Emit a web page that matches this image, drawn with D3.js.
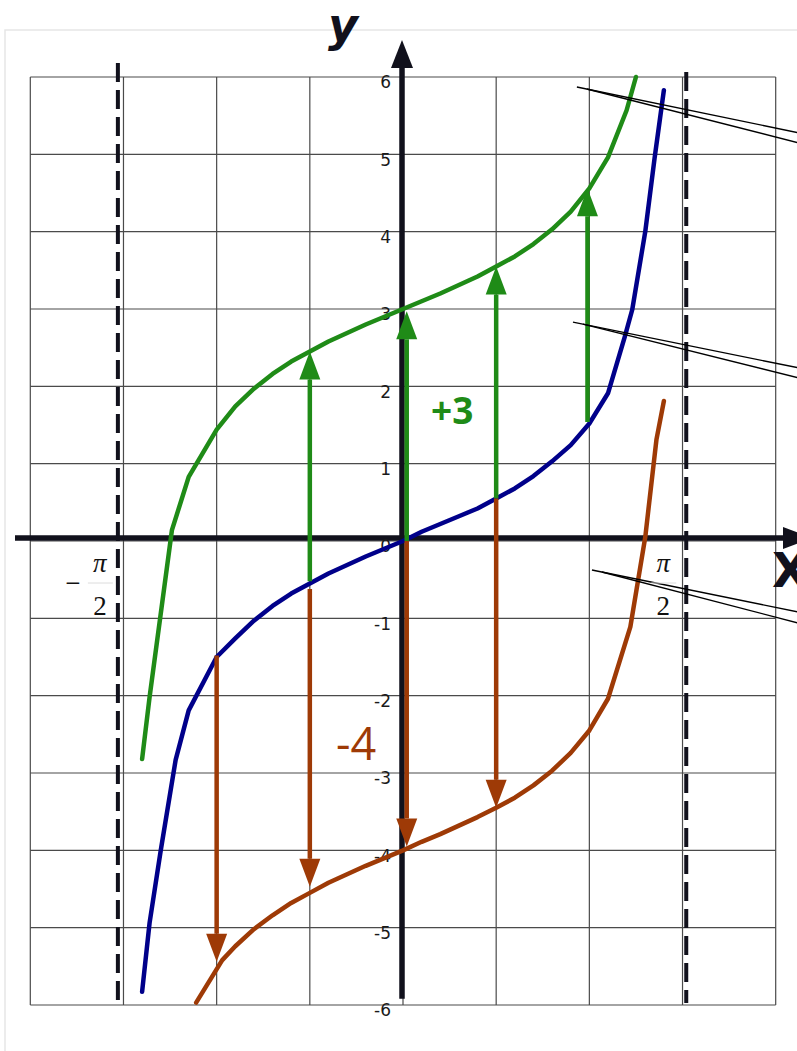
<!DOCTYPE html>
<html lang="en">
<head>
<meta charset="UTF-8" />
<script src="https://d3js.org/d3.v7.min.js"></script>
<style>
  body { margin: 0; background: #fff; }
  svg { display: block; }
</style>
</head>
<body>
<svg id="chart" width="797" height="1051"></svg>
<script>
    // values (x in radians)
    const xGrid = [-2, -1.5, -1, -0.5, 0, 0.5, 1, 1.5, 2];
    const yTicks = [-6, -5, -4, -3, -2, -1, 0, 1, 2, 3, 4, 5, 6];
    const asymptotes = [-1.53, 1.52];

    const blueX = [-1.4, -1.36, -1.3, -1.22, -1.15, -1.0, -0.9, -0.8, -0.7, -0.6, -0.5, -0.4, -0.3, -0.2, -0.1, 0,
                   0.1, 0.2, 0.3, 0.4, 0.5, 0.6, 0.7, 0.8, 0.9, 1.0, 1.1, 1.19, 1.23, 1.3, 1.35, 1.4];
    const blueY = [-5.83, -4.94, -4.0, -2.83, -2.19, -1.5, -1.26, -1.03, -0.84, -0.68, -0.55, -0.42, -0.31, -0.2, -0.1, 0,
                   0.12, 0.22, 0.32, 0.42, 0.55, 0.68, 0.84, 1.03, 1.24, 1.52, 1.91, 2.64, 2.99, 4.0, 4.95, 5.83];

    const greenX = [-1.4, -1.36, -1.24, -1.15, -1.0, -0.9, -0.8, -0.7, -0.6, -0.5, -0.4, -0.3, -0.2, -0.1, 0,
                    0.1, 0.2, 0.3, 0.4, 0.5, 0.6, 0.7, 0.8, 0.9, 1.0, 1.1, 1.2, 1.25];
    const greenY = [-2.82, -2.02, 0.14, 0.83, 1.44, 1.74, 1.97, 2.16, 2.32, 2.45, 2.58, 2.69, 2.8, 2.9, 3.0,
                    3.1, 3.2, 3.31, 3.42, 3.55, 3.68, 3.84, 4.03, 4.26, 4.56, 4.96, 5.57, 6.0];

    const redX = [-1.11, -0.97, -0.9, -0.8, -0.7, -0.6, -0.5, -0.4, -0.3, -0.2, -0.1, 0,
                  0.1, 0.2, 0.3, 0.4, 0.5, 0.6, 0.7, 0.8, 0.9, 1.0, 1.1, 1.22, 1.3, 1.36, 1.4];
    const redY = [-5.97, -5.42, -5.24, -5.02, -4.84, -4.68, -4.55, -4.42, -4.31, -4.2, -4.1, -4.0,
                  -3.89, -3.79, -3.68, -3.57, -3.45, -3.32, -3.16, -2.97, -2.74, -2.45, -2.04, -1.11, 0.05, 1.31, 1.81];

    // shift arrows: +3 (green) and -4 (red)
    const upX = [-0.5, 0.02, 0.5, 0.99];
    const upFrom = [-0.52, 0, 0.55, 1.54];
    const upTo = [2.45, 2.97, 3.55, 4.56];

    const downX = [-1.0, -0.5, 0.02, 0.5];
    const downFrom = [-1.48, -0.62, 0, 0.55];
    const downTo = [-5.44, -4.47, -3.95, -3.45];

    // leader lines running off the right edge: [x0, y0, x1, y1a, y1b]
    const leaders = [
        [0.933, 5.87, 2.12, 5.28, 5.15],
        [0.912, 2.83, 2.12, 2.24, 2.11],
        [1.014, -0.375, 2.12, -0.918, -1.06]
    ];

    const svg = d3.select('#chart');

    const x = d3.scaleLinear().domain([-2, 2]).range([30.3, 775.7]);
    const y = d3.scaleLinear().domain([-6, 6]).range([1005, 77]);

    const green = '#1f8b17';
    const red = '#9e3a06';
    const blue = '#00008a';
    const ink = '#11111c';

    // faint frame
    svg.append('rect')
        .attr('x', 5).attr('y', 30)
        .attr('width', 900).attr('height', 1100)
        .attr('fill', 'none')
        .attr('stroke', '#e6e6e6')
        .attr('stroke-width', 1.5);

    // grid
    const grid = svg.append('g')
        .attr('stroke', '#4a4a4a')
        .attr('stroke-width', 1.2);

    grid.selectAll('.vg').data(xGrid).enter().append('line')
        .attr('x1', d => x(d)).attr('x2', d => x(d))
        .attr('y1', y(6)).attr('y2', y(-6));

    grid.selectAll('.hg').data(yTicks).enter().append('line')
        .attr('x1', x(-2)).attr('x2', x(2))
        .attr('y1', d => y(d)).attr('y2', d => y(d));

    // asymptotes
    svg.selectAll('.asym').data(asymptotes).enter().append('line')
        .attr('x1', d => x(d)).attr('x2', d => x(d))
        .attr('y1', (d, i) => i === 0 ? 63 : 72)
        .attr('y2', 1003)
        .attr('stroke', ink)
        .attr('stroke-width', 4)
        .attr('stroke-dasharray', '19,8');

    // axes
    const x0 = x(0) - 1;
    const y0 = y(0) - 3;

    svg.append('line')
        .attr('x1', 15).attr('x2', 790)
        .attr('y1', y0).attr('y2', y0)
        .attr('stroke', ink).attr('stroke-width', 5.5);
    svg.append('path')
        .attr('d', `M783,${y0 - 11} L812,${y0} L783,${y0 + 11} Z`)
        .attr('fill', ink);

    svg.append('line')
        .attr('x1', x0).attr('x2', x0)
        .attr('y1', y(-5.92)).attr('y2', 62)
        .attr('stroke', ink).attr('stroke-width', 5.5);
    svg.append('path')
        .attr('d', `M${x0 - 11},68 L${x0},40 L${x0 + 11},68 Z`)
        .attr('fill', ink);

    // tick labels on the y axis
    const yAxis = d3.axisLeft(y)
        .tickValues(yTicks)
        .tickSize(0)
        .tickPadding(0)
        .tickFormat(d => String(d));

    const yAxisG = svg.append('g')
        .attr('transform', `translate(${x(0) - 12},0)`)
        .call(yAxis);
    yAxisG.select('.domain').remove();
    yAxisG.selectAll('text')
        .attr('dy', '0.64em')
        .attr('fill', '#1a1a1a')
        .style('font-family', 'DejaVu Sans, sans-serif')
        .style('font-size', '17px');

    // curves
    const line = d3.line()
        .x(d => x(d[0]))
        .y(d => y(d[1]));

    const series = [
        { xs: greenX, ys: greenY, color: green },
        { xs: blueX, ys: blueY, color: blue },
        { xs: redX, ys: redY, color: red }
    ];

    svg.selectAll('.curve').data(series).enter().append('path')
        .attr('d', s => line(s.xs.map((v, i) => [v, s.ys[i]])))
        .attr('fill', 'none')
        .attr('stroke', s => s.color)
        .attr('stroke-width', 4.5)
        .attr('stroke-linejoin', 'round')
        .attr('stroke-linecap', 'round');

    // arrows
    const headLen = 28, headHalf = 10.5;

    const drawArrows = (xs, from, to, color) => {
        const g = svg.append('g');
        xs.forEach((v, i) => {
            const px = x(v);
            const ya = y(from[i]);
            const yb = y(to[i]);
            const dir = yb < ya ? 1 : -1; // 1 = pointing up
            const base = yb + dir * headLen;
            g.append('line')
                .attr('x1', px).attr('x2', px)
                .attr('y1', ya).attr('y2', base)
                .attr('stroke', color)
                .attr('stroke-width', 4.5);
            g.append('path')
                .attr('d', `M${px - headHalf},${base} L${px},${yb} L${px + headHalf},${base} Z`)
                .attr('fill', color);
        });
    };

    drawArrows(upX, upFrom, upTo, green);
    drawArrows(downX, downFrom, downTo, red);

    // leader lines
    const lg = svg.append('g')
        .attr('stroke', '#000')
        .attr('stroke-width', 1.4)
        .attr('fill', 'none');
    leaders.forEach(l => {
        lg.append('line')
            .attr('x1', x(l[0])).attr('y1', y(l[1]))
            .attr('x2', x(l[2])).attr('y2', y(l[3]));
        lg.append('line')
            .attr('x1', x(l[0]) + 10).attr('y1', y(l[1]) + 2)
            .attr('x2', x(l[2])).attr('y2', y(l[4]));
    });

    // shift labels
    svg.append('text')
        .attr('x', 431).attr('y', 424)
        .attr('fill', green)
        .style('font-family', 'Open Sans, sans-serif')
        .style('font-weight', 'bold')
        .style('font-size', '37px')
        .text('+3');

    svg.append('text')
        .attr('x', 336).attr('y', 760)
        .attr('fill', red)
        .style('font-family', 'Open Sans, sans-serif')
        .style('font-size', '45px')
        .text('-4');

    // axis names
    svg.append('text')
        .attr('x', 328).attr('y', 41)
        .attr('fill', ink)
        .style('font-family', 'DejaVu Sans, sans-serif')
        .style('font-weight', 'bold')
        .style('font-style', 'italic')
        .style('font-size', '46px')
        .text('y');

    svg.append('text')
        .attr('x', 772).attr('y', 587)
        .attr('fill', ink)
        .style('font-family', 'DejaVu Sans, sans-serif')
        .style('font-weight', 'bold')
        .style('font-size', '48px')
        .text('X');

    // ±π/2 labels beside the asymptotes
    const piLabels = [
        { cx: x(asymptotes[0]) - 18, sign: true },
        { cx: x(asymptotes[1]) - 23, sign: false }
    ];
    piLabels.forEach(p => {
        const t = svg.append('g')
            .style('font-family', 'Liberation Serif, serif')
            .style('font-size', '27px')
            .attr('fill', '#111')
            .attr('text-anchor', 'middle');
        t.append('text').attr('x', p.cx).attr('y', 572)
            .style('font-style', 'italic').text('π');
        t.append('text').attr('x', p.cx).attr('y', 615).text('2');
        svg.append('line')
            .attr('x1', p.cx - 12).attr('x2', p.cx + 13)
            .attr('y1', 583).attr('y2', 583)
            .attr('stroke', '#dcdcdc').attr('stroke-width', 1);
        if (p.sign) {
            t.append('text').attr('x', p.cx - 27).attr('y', 592).text('−');
        }
    });
</script>
</body>
</html>
